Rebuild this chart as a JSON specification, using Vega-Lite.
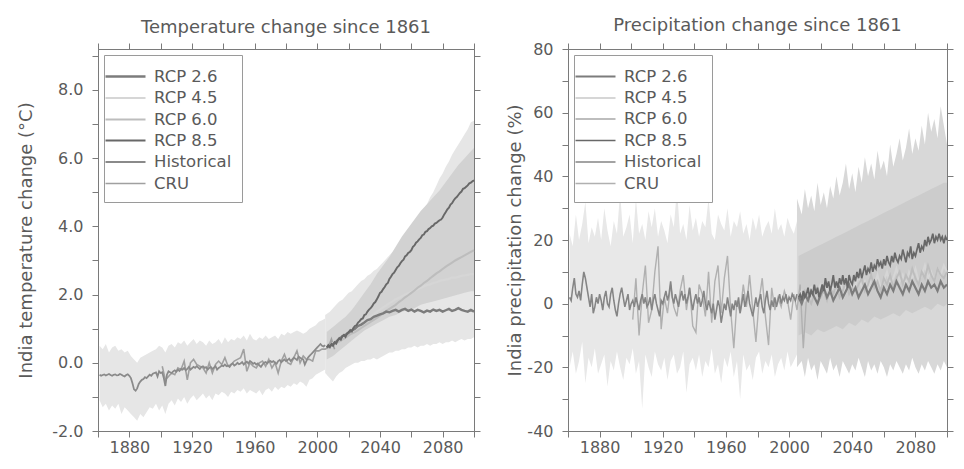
{
"$schema": "https://vega.github.io/schema/vega-lite/v6.json",
"background": "white",
"padding": {"left": 17, "top": 16, "right": 5, "bottom": 5},
"config": {
  "font": "DejaVu Sans",
  "view": {"stroke": "#7a7a7a", "strokeWidth": 1},
  "axis": {"labelFont": "DejaVu Sans", "labelFontSize": 16, "labelColor": "#5a5a5a", "titleFont": "DejaVu Sans", "titleFontSize": 18, "titleColor": "#5a5a5a", "titleFontWeight": "normal", "domainColor": "#7a7a7a", "tickColor": "#7a7a7a", "grid": false, "tickSize": 6, "labelOverlap": false},
  "axisY": {"labelPadding": 9},
  "axisX": {"labelPadding": 2},
  "legend": {"labelFont": "DejaVu Sans", "labelFontSize": 16.5, "labelColor": "#5a5a5a", "symbolType": "M-2,0L2,0", "symbolSize": 400, "symbolStrokeWidth": 2.5, "strokeColor": "#9a9a9a", "fillColor": "white", "padding": 10, "rowPadding": 1.5, "offset": 6, "labelOffset": 17},
  "title": {"font": "DejaVu Sans", "fontSize": 18, "fontWeight": "normal", "color": "#5a5a5a", "offset": 6}
},
"datasets": {
"t_band": [
{"yr":1861,"lo":-1.1,"hi":0.5,"b":"hist"},{"yr":1863,"lo":-1.3,"hi":0.4,"b":"hist"},{"yr":1865,"lo":-1.2,"hi":0.55,"b":"hist"},{"yr":1867,"lo":-1.4,"hi":0.3,"b":"hist"},{"yr":1869,"lo":-1.25,"hi":0.45,"b":"hist"},{"yr":1871,"lo":-1.35,"hi":0.5,"b":"hist"},{"yr":1873,"lo":-1.2,"hi":0.35,"b":"hist"},{"yr":1875,"lo":-1.5,"hi":0.4,"b":"hist"},{"yr":1877,"lo":-1.3,"hi":0.3,"b":"hist"},{"yr":1879,"lo":-1.4,"hi":0.35,"b":"hist"},{"yr":1881,"lo":-1.5,"hi":0.2,"b":"hist"},{"yr":1883,"lo":-1.6,"hi":0.1,"b":"hist"},{"yr":1885,"lo":-1.7,"hi":0.0,"b":"hist"},{"yr":1887,"lo":-1.5,"hi":0.15,"b":"hist"},{"yr":1889,"lo":-1.6,"hi":0.2,"b":"hist"},{"yr":1891,"lo":-1.45,"hi":0.25,"b":"hist"},{"yr":1893,"lo":-1.3,"hi":0.3,"b":"hist"},{"yr":1895,"lo":-1.35,"hi":0.35,"b":"hist"},{"yr":1897,"lo":-1.2,"hi":0.4,"b":"hist"},{"yr":1899,"lo":-1.4,"hi":0.5,"b":"hist"},{"yr":1901,"lo":-1.25,"hi":0.45,"b":"hist"},{"yr":1903,"lo":-1.5,"hi":0.3,"b":"hist"},{"yr":1905,"lo":-1.2,"hi":0.5,"b":"hist"},{"yr":1907,"lo":-1.1,"hi":0.55,"b":"hist"},{"yr":1909,"lo":-1.25,"hi":0.45,"b":"hist"},{"yr":1911,"lo":-1.05,"hi":0.6,"b":"hist"},{"yr":1913,"lo":-1.15,"hi":0.55,"b":"hist"},{"yr":1915,"lo":-1.0,"hi":0.65,"b":"hist"},{"yr":1917,"lo":-1.2,"hi":0.5,"b":"hist"},{"yr":1919,"lo":-1.05,"hi":0.6,"b":"hist"},{"yr":1921,"lo":-0.95,"hi":0.7,"b":"hist"},{"yr":1923,"lo":-1.1,"hi":0.55,"b":"hist"},{"yr":1925,"lo":-1.0,"hi":0.65,"b":"hist"},{"yr":1927,"lo":-0.9,"hi":0.6,"b":"hist"},{"yr":1929,"lo":-1.05,"hi":0.5,"b":"hist"},{"yr":1931,"lo":-0.95,"hi":0.65,"b":"hist"},{"yr":1933,"lo":-1.1,"hi":0.55,"b":"hist"},{"yr":1935,"lo":-0.9,"hi":0.6,"b":"hist"},{"yr":1937,"lo":-0.95,"hi":0.7,"b":"hist"},{"yr":1939,"lo":-0.85,"hi":0.55,"b":"hist"},{"yr":1941,"lo":-0.9,"hi":0.75,"b":"hist"},{"yr":1943,"lo":-1.0,"hi":0.6,"b":"hist"},{"yr":1945,"lo":-0.85,"hi":0.7,"b":"hist"},{"yr":1947,"lo":-0.9,"hi":0.65,"b":"hist"},{"yr":1949,"lo":-0.8,"hi":0.75,"b":"hist"},{"yr":1951,"lo":-0.85,"hi":0.7,"b":"hist"},{"yr":1953,"lo":-0.75,"hi":0.8,"b":"hist"},{"yr":1955,"lo":-0.9,"hi":0.65,"b":"hist"},{"yr":1957,"lo":-0.8,"hi":0.85,"b":"hist"},{"yr":1959,"lo":-0.85,"hi":0.7,"b":"hist"},{"yr":1961,"lo":-0.9,"hi":0.65,"b":"hist"},{"yr":1963,"lo":-0.8,"hi":0.75,"b":"hist"},{"yr":1965,"lo":-0.95,"hi":0.7,"b":"hist"},{"yr":1967,"lo":-0.8,"hi":0.8,"b":"hist"},{"yr":1969,"lo":-0.75,"hi":0.7,"b":"hist"},{"yr":1971,"lo":-0.85,"hi":0.75,"b":"hist"},{"yr":1973,"lo":-0.7,"hi":0.8,"b":"hist"},{"yr":1975,"lo":-0.8,"hi":0.7,"b":"hist"},{"yr":1977,"lo":-0.7,"hi":0.85,"b":"hist"},{"yr":1979,"lo":-0.75,"hi":0.8,"b":"hist"},{"yr":1981,"lo":-0.65,"hi":0.9,"b":"hist"},{"yr":1983,"lo":-0.7,"hi":0.85,"b":"hist"},{"yr":1985,"lo":-0.6,"hi":0.9,"b":"hist"},{"yr":1987,"lo":-0.65,"hi":0.95,"b":"hist"},{"yr":1989,"lo":-0.55,"hi":0.9,"b":"hist"},{"yr":1991,"lo":-0.6,"hi":0.85,"b":"hist"},{"yr":1993,"lo":-0.7,"hi":0.9,"b":"hist"},{"yr":1995,"lo":-0.5,"hi":1.0,"b":"hist"},{"yr":1997,"lo":-0.45,"hi":1.05,"b":"hist"},{"yr":1999,"lo":-0.35,"hi":1.1,"b":"hist"},{"yr":2001,"lo":-0.3,"hi":1.2,"b":"hist"},{"yr":2003,"lo":-0.25,"hi":1.25,"b":"hist"},{"yr":2005,"lo":-0.2,"hi":1.3,"b":"hist"},
{"yr":2005,"lo":-0.3,"hi":1.4,"b":"outer"},{"yr":2008,"lo":-0.45,"hi":1.5,"b":"outer"},{"yr":2010,"lo":-0.55,"hi":1.6,"b":"outer"},{"yr":2012,"lo":-0.4,"hi":1.7,"b":"outer"},{"yr":2014,"lo":-0.3,"hi":1.8,"b":"outer"},{"yr":2016,"lo":-0.25,"hi":1.85,"b":"outer"},{"yr":2018,"lo":-0.15,"hi":1.95,"b":"outer"},{"yr":2020,"lo":-0.1,"hi":2.05,"b":"outer"},{"yr":2022,"lo":-0.05,"hi":2.1,"b":"outer"},{"yr":2024,"lo":0.0,"hi":2.2,"b":"outer"},{"yr":2026,"lo":0.0,"hi":2.3,"b":"outer"},{"yr":2028,"lo":0.05,"hi":2.4,"b":"outer"},{"yr":2030,"lo":0.05,"hi":2.45,"b":"outer"},{"yr":2032,"lo":0.1,"hi":2.55,"b":"outer"},{"yr":2034,"lo":0.1,"hi":2.6,"b":"outer"},{"yr":2036,"lo":0.15,"hi":2.7,"b":"outer"},{"yr":2038,"lo":0.1,"hi":2.75,"b":"outer"},{"yr":2040,"lo":0.15,"hi":2.85,"b":"outer"},{"yr":2042,"lo":0.2,"hi":2.95,"b":"outer"},{"yr":2044,"lo":0.25,"hi":3.05,"b":"outer"},{"yr":2046,"lo":0.3,"hi":3.15,"b":"outer"},{"yr":2048,"lo":0.3,"hi":3.25,"b":"outer"},{"yr":2050,"lo":0.35,"hi":3.35,"b":"outer"},{"yr":2052,"lo":0.35,"hi":3.45,"b":"outer"},{"yr":2054,"lo":0.4,"hi":3.55,"b":"outer"},{"yr":2056,"lo":0.4,"hi":3.7,"b":"outer"},{"yr":2058,"lo":0.45,"hi":3.8,"b":"outer"},{"yr":2060,"lo":0.45,"hi":3.95,"b":"outer"},{"yr":2062,"lo":0.5,"hi":4.05,"b":"outer"},{"yr":2064,"lo":0.45,"hi":4.2,"b":"outer"},{"yr":2066,"lo":0.5,"hi":4.35,"b":"outer"},{"yr":2068,"lo":0.5,"hi":4.5,"b":"outer"},{"yr":2070,"lo":0.55,"hi":4.65,"b":"outer"},{"yr":2072,"lo":0.5,"hi":4.85,"b":"outer"},{"yr":2074,"lo":0.55,"hi":5.0,"b":"outer"},{"yr":2076,"lo":0.55,"hi":5.2,"b":"outer"},{"yr":2078,"lo":0.6,"hi":5.4,"b":"outer"},{"yr":2080,"lo":0.55,"hi":5.55,"b":"outer"},{"yr":2082,"lo":0.6,"hi":5.75,"b":"outer"},{"yr":2084,"lo":0.6,"hi":5.9,"b":"outer"},{"yr":2086,"lo":0.65,"hi":6.1,"b":"outer"},{"yr":2088,"lo":0.6,"hi":6.25,"b":"outer"},{"yr":2090,"lo":0.65,"hi":6.4,"b":"outer"},{"yr":2092,"lo":0.7,"hi":6.55,"b":"outer"},{"yr":2094,"lo":0.65,"hi":6.7,"b":"outer"},{"yr":2096,"lo":0.7,"hi":6.85,"b":"outer"},{"yr":2098,"lo":0.7,"hi":7.05,"b":"outer"},{"yr":2100,"lo":0.75,"hi":7.1,"b":"outer"},
{"yr":2006,"lo":0.1,"hi":0.9,"b":"inner"},{"yr":2010,"lo":0.2,"hi":1.05,"b":"inner"},{"yr":2014,"lo":0.35,"hi":1.2,"b":"inner"},{"yr":2018,"lo":0.5,"hi":1.35,"b":"inner"},{"yr":2022,"lo":0.65,"hi":1.55,"b":"inner"},{"yr":2026,"lo":0.8,"hi":1.8,"b":"inner"},{"yr":2030,"lo":0.95,"hi":2.05,"b":"inner"},{"yr":2034,"lo":1.05,"hi":2.3,"b":"inner"},{"yr":2038,"lo":1.15,"hi":2.6,"b":"inner"},{"yr":2042,"lo":1.25,"hi":2.85,"b":"inner"},{"yr":2046,"lo":1.35,"hi":3.1,"b":"inner"},{"yr":2050,"lo":1.4,"hi":3.4,"b":"inner"},{"yr":2054,"lo":1.5,"hi":3.7,"b":"inner"},{"yr":2058,"lo":1.55,"hi":3.95,"b":"inner"},{"yr":2062,"lo":1.6,"hi":4.2,"b":"inner"},{"yr":2066,"lo":1.7,"hi":4.45,"b":"inner"},{"yr":2070,"lo":1.75,"hi":4.65,"b":"inner"},{"yr":2074,"lo":1.8,"hi":4.85,"b":"inner"},{"yr":2078,"lo":1.85,"hi":5.05,"b":"inner"},{"yr":2082,"lo":1.9,"hi":5.3,"b":"inner"},{"yr":2086,"lo":1.95,"hi":5.55,"b":"inner"},{"yr":2090,"lo":2.0,"hi":5.8,"b":"inner"},{"yr":2094,"lo":2.05,"hi":6.0,"b":"inner"},{"yr":2098,"lo":2.1,"hi":6.2,"b":"inner"},{"yr":2100,"lo":2.1,"hi":6.3,"b":"inner"}
],
"t_line": [
{"yr":1901,"v":-0.1,"s":"CRU"},{"yr":1903,"v":-0.5,"s":"CRU"},{"yr":1905,"v":-0.4,"s":"CRU"},{"yr":1907,"v":-0.3,"s":"CRU"},{"yr":1909,"v":-0.35,"s":"CRU"},{"yr":1911,"v":-0.15,"s":"CRU"},{"yr":1913,"v":-0.2,"s":"CRU"},{"yr":1915,"v":0.05,"s":"CRU"},{"yr":1917,"v":-0.5,"s":"CRU"},{"yr":1919,"v":0.0,"s":"CRU"},{"yr":1921,"v":0.1,"s":"CRU"},{"yr":1923,"v":-0.05,"s":"CRU"},{"yr":1925,"v":-0.1,"s":"CRU"},{"yr":1927,"v":-0.15,"s":"CRU"},{"yr":1929,"v":-0.3,"s":"CRU"},{"yr":1931,"v":0.0,"s":"CRU"},{"yr":1933,"v":-0.3,"s":"CRU"},{"yr":1935,"v":-0.05,"s":"CRU"},{"yr":1937,"v":0.05,"s":"CRU"},{"yr":1939,"v":-0.05,"s":"CRU"},{"yr":1941,"v":0.15,"s":"CRU"},{"yr":1943,"v":-0.1,"s":"CRU"},{"yr":1945,"v":-0.05,"s":"CRU"},{"yr":1947,"v":0.05,"s":"CRU"},{"yr":1949,"v":0.1,"s":"CRU"},{"yr":1951,"v":0.15,"s":"CRU"},{"yr":1953,"v":0.4,"s":"CRU"},{"yr":1955,"v":-0.25,"s":"CRU"},{"yr":1957,"v":0.0,"s":"CRU"},{"yr":1959,"v":-0.1,"s":"CRU"},{"yr":1961,"v":-0.15,"s":"CRU"},{"yr":1963,"v":0.0,"s":"CRU"},{"yr":1965,"v":0.05,"s":"CRU"},{"yr":1967,"v":-0.1,"s":"CRU"},{"yr":1969,"v":0.1,"s":"CRU"},{"yr":1971,"v":-0.15,"s":"CRU"},{"yr":1973,"v":0.0,"s":"CRU"},{"yr":1975,"v":-0.3,"s":"CRU"},{"yr":1977,"v":0.05,"s":"CRU"},{"yr":1979,"v":0.25,"s":"CRU"},{"yr":1981,"v":0.0,"s":"CRU"},{"yr":1983,"v":-0.05,"s":"CRU"},{"yr":1985,"v":0.15,"s":"CRU"},{"yr":1987,"v":0.35,"s":"CRU"},{"yr":1989,"v":0.0,"s":"CRU"},{"yr":1991,"v":0.2,"s":"CRU"},{"yr":1993,"v":0.1,"s":"CRU"},{"yr":1995,"v":0.1,"s":"CRU"},{"yr":1997,"v":0.05,"s":"CRU"},{"yr":1999,"v":0.35,"s":"CRU"},{"yr":2001,"v":0.35,"s":"CRU"},{"yr":2003,"v":0.4,"s":"CRU"},{"yr":2005,"v":0.4,"s":"CRU"},{"yr":2007,"v":0.45,"s":"CRU"},{"yr":2009,"v":0.7,"s":"CRU"},{"yr":2011,"v":0.4,"s":"CRU"},
{"yr":1861,"v":-0.35,"s":"Historical"},{"yr":1862,"v":-0.38,"s":"Historical"},{"yr":1863,"v":-0.36,"s":"Historical"},{"yr":1864,"v":-0.34,"s":"Historical"},{"yr":1865,"v":-0.37,"s":"Historical"},{"yr":1866,"v":-0.35,"s":"Historical"},{"yr":1867,"v":-0.33,"s":"Historical"},{"yr":1868,"v":-0.36,"s":"Historical"},{"yr":1869,"v":-0.38,"s":"Historical"},{"yr":1870,"v":-0.35,"s":"Historical"},{"yr":1871,"v":-0.34,"s":"Historical"},{"yr":1872,"v":-0.37,"s":"Historical"},{"yr":1873,"v":-0.36,"s":"Historical"},{"yr":1874,"v":-0.33,"s":"Historical"},{"yr":1875,"v":-0.35,"s":"Historical"},{"yr":1876,"v":-0.38,"s":"Historical"},{"yr":1877,"v":-0.4,"s":"Historical"},{"yr":1878,"v":-0.36,"s":"Historical"},{"yr":1879,"v":-0.34,"s":"Historical"},{"yr":1880,"v":-0.38,"s":"Historical"},
{"yr":1881,"v":-0.45,"s":"Historical"},{"yr":1882,"v":-0.6,"s":"Historical"},{"yr":1883,"v":-0.78,"s":"Historical"},{"yr":1884,"v":-0.82,"s":"Historical"},{"yr":1885,"v":-0.75,"s":"Historical"},{"yr":1886,"v":-0.62,"s":"Historical"},{"yr":1887,"v":-0.55,"s":"Historical"},{"yr":1888,"v":-0.5,"s":"Historical"},{"yr":1889,"v":-0.48,"s":"Historical"},{"yr":1890,"v":-0.42,"s":"Historical"},
{"yr":1891,"v":-0.45,"s":"Historical"},{"yr":1892,"v":-0.4,"s":"Historical"},{"yr":1893,"v":-0.35,"s":"Historical"},{"yr":1894,"v":-0.38,"s":"Historical"},{"yr":1895,"v":-0.32,"s":"Historical"},{"yr":1896,"v":-0.3,"s":"Historical"},{"yr":1897,"v":-0.28,"s":"Historical"},{"yr":1898,"v":-0.4,"s":"Historical"},{"yr":1899,"v":-0.25,"s":"Historical"},{"yr":1900,"v":-0.3,"s":"Historical"},
{"yr":1901,"v":-0.28,"s":"Historical"},{"yr":1902,"v":-0.45,"s":"Historical"},{"yr":1903,"v":-0.68,"s":"Historical"},{"yr":1904,"v":-0.35,"s":"Historical"},{"yr":1905,"v":-0.25,"s":"Historical"},{"yr":1906,"v":-0.28,"s":"Historical"},{"yr":1907,"v":-0.3,"s":"Historical"},{"yr":1908,"v":-0.25,"s":"Historical"},{"yr":1909,"v":-0.22,"s":"Historical"},{"yr":1910,"v":-0.26,"s":"Historical"},
{"yr":1911,"v":-0.2,"s":"Historical"},{"yr":1912,"v":-0.24,"s":"Historical"},{"yr":1913,"v":-0.18,"s":"Historical"},{"yr":1914,"v":-0.2,"s":"Historical"},{"yr":1915,"v":-0.15,"s":"Historical"},{"yr":1916,"v":-0.22,"s":"Historical"},{"yr":1917,"v":-0.18,"s":"Historical"},{"yr":1918,"v":-0.12,"s":"Historical"},{"yr":1919,"v":-0.2,"s":"Historical"},{"yr":1920,"v":-0.16,"s":"Historical"},
{"yr":1921,"v":-0.12,"s":"Historical"},{"yr":1922,"v":-0.15,"s":"Historical"},{"yr":1923,"v":-0.1,"s":"Historical"},{"yr":1924,"v":-0.14,"s":"Historical"},{"yr":1925,"v":-0.18,"s":"Historical"},{"yr":1926,"v":-0.12,"s":"Historical"},{"yr":1927,"v":-0.1,"s":"Historical"},{"yr":1928,"v":-0.15,"s":"Historical"},{"yr":1929,"v":-0.13,"s":"Historical"},{"yr":1930,"v":-0.2,"s":"Historical"},
{"yr":1931,"v":-0.15,"s":"Historical"},{"yr":1932,"v":-0.12,"s":"Historical"},{"yr":1933,"v":-0.18,"s":"Historical"},{"yr":1934,"v":-0.14,"s":"Historical"},{"yr":1935,"v":-0.1,"s":"Historical"},{"yr":1936,"v":-0.2,"s":"Historical"},{"yr":1937,"v":-0.15,"s":"Historical"},{"yr":1938,"v":-0.12,"s":"Historical"},{"yr":1939,"v":-0.08,"s":"Historical"},{"yr":1940,"v":-0.1,"s":"Historical"},
{"yr":1941,"v":-0.05,"s":"Historical"},{"yr":1942,"v":-0.1,"s":"Historical"},{"yr":1943,"v":-0.08,"s":"Historical"},{"yr":1944,"v":-0.12,"s":"Historical"},{"yr":1945,"v":-0.05,"s":"Historical"},{"yr":1946,"v":-0.02,"s":"Historical"},{"yr":1947,"v":-0.08,"s":"Historical"},{"yr":1948,"v":-0.05,"s":"Historical"},{"yr":1949,"v":0.0,"s":"Historical"},{"yr":1950,"v":-0.04,"s":"Historical"},
{"yr":1951,"v":-0.02,"s":"Historical"},{"yr":1952,"v":0.02,"s":"Historical"},{"yr":1953,"v":-0.05,"s":"Historical"},{"yr":1954,"v":0.0,"s":"Historical"},{"yr":1955,"v":0.03,"s":"Historical"},{"yr":1956,"v":-0.02,"s":"Historical"},{"yr":1957,"v":0.05,"s":"Historical"},{"yr":1958,"v":0.02,"s":"Historical"},{"yr":1959,"v":-0.03,"s":"Historical"},{"yr":1960,"v":0.0,"s":"Historical"},
{"yr":1961,"v":-0.05,"s":"Historical"},{"yr":1962,"v":-0.02,"s":"Historical"},{"yr":1963,"v":-0.08,"s":"Historical"},{"yr":1964,"v":-0.12,"s":"Historical"},{"yr":1965,"v":-0.05,"s":"Historical"},{"yr":1966,"v":0.0,"s":"Historical"},{"yr":1967,"v":0.02,"s":"Historical"},{"yr":1968,"v":-0.02,"s":"Historical"},{"yr":1969,"v":0.03,"s":"Historical"},{"yr":1970,"v":0.05,"s":"Historical"},
{"yr":1971,"v":0.02,"s":"Historical"},{"yr":1972,"v":0.05,"s":"Historical"},{"yr":1973,"v":0.0,"s":"Historical"},{"yr":1974,"v":-0.03,"s":"Historical"},{"yr":1975,"v":0.05,"s":"Historical"},{"yr":1976,"v":0.08,"s":"Historical"},{"yr":1977,"v":0.02,"s":"Historical"},{"yr":1978,"v":0.06,"s":"Historical"},{"yr":1979,"v":0.1,"s":"Historical"},{"yr":1980,"v":0.05,"s":"Historical"},
{"yr":1981,"v":0.08,"s":"Historical"},{"yr":1982,"v":0.12,"s":"Historical"},{"yr":1983,"v":0.05,"s":"Historical"},{"yr":1984,"v":0.1,"s":"Historical"},{"yr":1985,"v":0.15,"s":"Historical"},{"yr":1986,"v":0.12,"s":"Historical"},{"yr":1987,"v":0.08,"s":"Historical"},{"yr":1988,"v":0.18,"s":"Historical"},{"yr":1989,"v":0.15,"s":"Historical"},{"yr":1990,"v":0.12,"s":"Historical"},
{"yr":1991,"v":0.1,"s":"Historical"},{"yr":1992,"v":-0.05,"s":"Historical"},{"yr":1993,"v":0.05,"s":"Historical"},{"yr":1994,"v":0.15,"s":"Historical"},{"yr":1995,"v":0.2,"s":"Historical"},{"yr":1996,"v":0.25,"s":"Historical"},{"yr":1997,"v":0.3,"s":"Historical"},{"yr":1998,"v":0.35,"s":"Historical"},{"yr":1999,"v":0.4,"s":"Historical"},{"yr":2000,"v":0.45,"s":"Historical"},
{"yr":2001,"v":0.5,"s":"Historical"},{"yr":2002,"v":0.55,"s":"Historical"},{"yr":2003,"v":0.5,"s":"Historical"},{"yr":2004,"v":0.48,"s":"Historical"},{"yr":2005,"v":0.52,"s":"Historical"},
{"yr":2006,"v":0.45,"s":"RCP 4.5"},{"yr":2008,"v":0.5,"s":"RCP 4.5"},{"yr":2010,"v":0.58,"s":"RCP 4.5"},{"yr":2012,"v":0.62,"s":"RCP 4.5"},{"yr":2014,"v":0.7,"s":"RCP 4.5"},{"yr":2016,"v":0.75,"s":"RCP 4.5"},{"yr":2018,"v":0.82,"s":"RCP 4.5"},{"yr":2020,"v":0.9,"s":"RCP 4.5"},{"yr":2022,"v":0.95,"s":"RCP 4.5"},{"yr":2024,"v":1.02,"s":"RCP 4.5"},{"yr":2026,"v":1.1,"s":"RCP 4.5"},{"yr":2028,"v":1.15,"s":"RCP 4.5"},{"yr":2030,"v":1.22,"s":"RCP 4.5"},{"yr":2032,"v":1.3,"s":"RCP 4.5"},{"yr":2034,"v":1.36,"s":"RCP 4.5"},{"yr":2036,"v":1.42,"s":"RCP 4.5"},{"yr":2038,"v":1.5,"s":"RCP 4.5"},{"yr":2040,"v":1.56,"s":"RCP 4.5"},{"yr":2042,"v":1.62,"s":"RCP 4.5"},{"yr":2044,"v":1.68,"s":"RCP 4.5"},{"yr":2046,"v":1.75,"s":"RCP 4.5"},{"yr":2048,"v":1.8,"s":"RCP 4.5"},{"yr":2050,"v":1.86,"s":"RCP 4.5"},{"yr":2052,"v":1.9,"s":"RCP 4.5"},{"yr":2054,"v":1.95,"s":"RCP 4.5"},{"yr":2056,"v":2.0,"s":"RCP 4.5"},{"yr":2058,"v":2.04,"s":"RCP 4.5"},{"yr":2060,"v":2.08,"s":"RCP 4.5"},{"yr":2062,"v":2.12,"s":"RCP 4.5"},{"yr":2064,"v":2.16,"s":"RCP 4.5"},{"yr":2066,"v":2.2,"s":"RCP 4.5"},{"yr":2068,"v":2.24,"s":"RCP 4.5"},{"yr":2070,"v":2.28,"s":"RCP 4.5"},{"yr":2072,"v":2.3,"s":"RCP 4.5"},{"yr":2074,"v":2.34,"s":"RCP 4.5"},{"yr":2076,"v":2.36,"s":"RCP 4.5"},{"yr":2078,"v":2.4,"s":"RCP 4.5"},{"yr":2080,"v":2.42,"s":"RCP 4.5"},{"yr":2082,"v":2.44,"s":"RCP 4.5"},{"yr":2084,"v":2.46,"s":"RCP 4.5"},{"yr":2086,"v":2.5,"s":"RCP 4.5"},{"yr":2088,"v":2.5,"s":"RCP 4.5"},{"yr":2090,"v":2.52,"s":"RCP 4.5"},{"yr":2092,"v":2.55,"s":"RCP 4.5"},{"yr":2094,"v":2.56,"s":"RCP 4.5"},{"yr":2096,"v":2.58,"s":"RCP 4.5"},{"yr":2098,"v":2.6,"s":"RCP 4.5"},{"yr":2100,"v":2.6,"s":"RCP 4.5"},
{"yr":2006,"v":0.45,"s":"RCP 6.0"},{"yr":2008,"v":0.48,"s":"RCP 6.0"},{"yr":2010,"v":0.52,"s":"RCP 6.0"},{"yr":2012,"v":0.58,"s":"RCP 6.0"},{"yr":2014,"v":0.62,"s":"RCP 6.0"},{"yr":2016,"v":0.68,"s":"RCP 6.0"},{"yr":2018,"v":0.74,"s":"RCP 6.0"},{"yr":2020,"v":0.8,"s":"RCP 6.0"},{"yr":2022,"v":0.86,"s":"RCP 6.0"},{"yr":2024,"v":0.9,"s":"RCP 6.0"},{"yr":2026,"v":0.96,"s":"RCP 6.0"},{"yr":2028,"v":1.02,"s":"RCP 6.0"},{"yr":2030,"v":1.08,"s":"RCP 6.0"},{"yr":2032,"v":1.14,"s":"RCP 6.0"},{"yr":2034,"v":1.2,"s":"RCP 6.0"},{"yr":2036,"v":1.26,"s":"RCP 6.0"},{"yr":2038,"v":1.32,"s":"RCP 6.0"},{"yr":2040,"v":1.38,"s":"RCP 6.0"},{"yr":2042,"v":1.45,"s":"RCP 6.0"},{"yr":2044,"v":1.52,"s":"RCP 6.0"},{"yr":2046,"v":1.58,"s":"RCP 6.0"},{"yr":2048,"v":1.64,"s":"RCP 6.0"},{"yr":2050,"v":1.7,"s":"RCP 6.0"},{"yr":2052,"v":1.78,"s":"RCP 6.0"},{"yr":2054,"v":1.84,"s":"RCP 6.0"},{"yr":2056,"v":1.92,"s":"RCP 6.0"},{"yr":2058,"v":1.98,"s":"RCP 6.0"},{"yr":2060,"v":2.05,"s":"RCP 6.0"},{"yr":2062,"v":2.12,"s":"RCP 6.0"},{"yr":2064,"v":2.2,"s":"RCP 6.0"},{"yr":2066,"v":2.26,"s":"RCP 6.0"},{"yr":2068,"v":2.34,"s":"RCP 6.0"},{"yr":2070,"v":2.4,"s":"RCP 6.0"},{"yr":2072,"v":2.48,"s":"RCP 6.0"},{"yr":2074,"v":2.55,"s":"RCP 6.0"},{"yr":2076,"v":2.62,"s":"RCP 6.0"},{"yr":2078,"v":2.68,"s":"RCP 6.0"},{"yr":2080,"v":2.75,"s":"RCP 6.0"},{"yr":2082,"v":2.82,"s":"RCP 6.0"},{"yr":2084,"v":2.88,"s":"RCP 6.0"},{"yr":2086,"v":2.94,"s":"RCP 6.0"},{"yr":2088,"v":3.0,"s":"RCP 6.0"},{"yr":2090,"v":3.05,"s":"RCP 6.0"},{"yr":2092,"v":3.1,"s":"RCP 6.0"},{"yr":2094,"v":3.15,"s":"RCP 6.0"},{"yr":2096,"v":3.2,"s":"RCP 6.0"},{"yr":2098,"v":3.25,"s":"RCP 6.0"},{"yr":2100,"v":3.3,"s":"RCP 6.0"},
{"yr":2006,"v":0.45,"s":"RCP 2.6"},{"yr":2008,"v":0.5,"s":"RCP 2.6"},{"yr":2010,"v":0.55,"s":"RCP 2.6"},{"yr":2012,"v":0.62,"s":"RCP 2.6"},{"yr":2014,"v":0.7,"s":"RCP 2.6"},{"yr":2016,"v":0.78,"s":"RCP 2.6"},{"yr":2018,"v":0.82,"s":"RCP 2.6"},{"yr":2020,"v":0.88,"s":"RCP 2.6"},{"yr":2022,"v":0.95,"s":"RCP 2.6"},{"yr":2024,"v":1.0,"s":"RCP 2.6"},{"yr":2026,"v":1.08,"s":"RCP 2.6"},{"yr":2028,"v":1.12,"s":"RCP 2.6"},{"yr":2030,"v":1.18,"s":"RCP 2.6"},{"yr":2032,"v":1.25,"s":"RCP 2.6"},{"yr":2034,"v":1.28,"s":"RCP 2.6"},{"yr":2036,"v":1.35,"s":"RCP 2.6"},{"yr":2038,"v":1.38,"s":"RCP 2.6"},{"yr":2040,"v":1.42,"s":"RCP 2.6"},{"yr":2042,"v":1.45,"s":"RCP 2.6"},{"yr":2044,"v":1.5,"s":"RCP 2.6"},{"yr":2046,"v":1.48,"s":"RCP 2.6"},{"yr":2048,"v":1.52,"s":"RCP 2.6"},{"yr":2050,"v":1.55,"s":"RCP 2.6"},{"yr":2052,"v":1.5,"s":"RCP 2.6"},{"yr":2054,"v":1.55,"s":"RCP 2.6"},{"yr":2056,"v":1.58,"s":"RCP 2.6"},{"yr":2058,"v":1.52,"s":"RCP 2.6"},{"yr":2060,"v":1.56,"s":"RCP 2.6"},{"yr":2062,"v":1.5,"s":"RCP 2.6"},{"yr":2064,"v":1.55,"s":"RCP 2.6"},{"yr":2066,"v":1.52,"s":"RCP 2.6"},{"yr":2068,"v":1.48,"s":"RCP 2.6"},{"yr":2070,"v":1.53,"s":"RCP 2.6"},{"yr":2072,"v":1.5,"s":"RCP 2.6"},{"yr":2074,"v":1.56,"s":"RCP 2.6"},{"yr":2076,"v":1.52,"s":"RCP 2.6"},{"yr":2078,"v":1.55,"s":"RCP 2.6"},{"yr":2080,"v":1.5,"s":"RCP 2.6"},{"yr":2082,"v":1.54,"s":"RCP 2.6"},{"yr":2084,"v":1.58,"s":"RCP 2.6"},{"yr":2086,"v":1.52,"s":"RCP 2.6"},{"yr":2088,"v":1.55,"s":"RCP 2.6"},{"yr":2090,"v":1.6,"s":"RCP 2.6"},{"yr":2092,"v":1.55,"s":"RCP 2.6"},{"yr":2094,"v":1.52,"s":"RCP 2.6"},{"yr":2096,"v":1.5,"s":"RCP 2.6"},{"yr":2098,"v":1.55,"s":"RCP 2.6"},{"yr":2100,"v":1.5,"s":"RCP 2.6"},
{"yr":2006,"v":0.45,"s":"RCP 8.5"},{"yr":2007,"v":0.52,"s":"RCP 8.5"},{"yr":2008,"v":0.46,"s":"RCP 8.5"},{"yr":2009,"v":0.55,"s":"RCP 8.5"},{"yr":2010,"v":0.5,"s":"RCP 8.5"},{"yr":2011,"v":0.6,"s":"RCP 8.5"},{"yr":2012,"v":0.56,"s":"RCP 8.5"},{"yr":2013,"v":0.66,"s":"RCP 8.5"},{"yr":2014,"v":0.72,"s":"RCP 8.5"},{"yr":2015,"v":0.68,"s":"RCP 8.5"},{"yr":2016,"v":0.78,"s":"RCP 8.5"},{"yr":2017,"v":0.82,"s":"RCP 8.5"},{"yr":2018,"v":0.76,"s":"RCP 8.5"},{"yr":2019,"v":0.86,"s":"RCP 8.5"},{"yr":2020,"v":0.9,"s":"RCP 8.5"},{"yr":2021,"v":0.96,"s":"RCP 8.5"},{"yr":2022,"v":0.92,"s":"RCP 8.5"},{"yr":2023,"v":1.02,"s":"RCP 8.5"},{"yr":2024,"v":1.08,"s":"RCP 8.5"},{"yr":2025,"v":1.1,"s":"RCP 8.5"},{"yr":2026,"v":1.18,"s":"RCP 8.5"},{"yr":2027,"v":1.22,"s":"RCP 8.5"},{"yr":2028,"v":1.28,"s":"RCP 8.5"},{"yr":2029,"v":1.3,"s":"RCP 8.5"},{"yr":2030,"v":1.4,"s":"RCP 8.5"},{"yr":2031,"v":1.42,"s":"RCP 8.5"},{"yr":2032,"v":1.5,"s":"RCP 8.5"},{"yr":2033,"v":1.56,"s":"RCP 8.5"},{"yr":2034,"v":1.6,"s":"RCP 8.5"},{"yr":2035,"v":1.66,"s":"RCP 8.5"},{"yr":2036,"v":1.74,"s":"RCP 8.5"},{"yr":2037,"v":1.78,"s":"RCP 8.5"},{"yr":2038,"v":1.86,"s":"RCP 8.5"},{"yr":2039,"v":1.95,"s":"RCP 8.5"},{"yr":2040,"v":2.05,"s":"RCP 8.5"},{"yr":2041,"v":2.08,"s":"RCP 8.5"},{"yr":2042,"v":2.16,"s":"RCP 8.5"},{"yr":2043,"v":2.22,"s":"RCP 8.5"},{"yr":2044,"v":2.3,"s":"RCP 8.5"},{"yr":2045,"v":2.34,"s":"RCP 8.5"},{"yr":2046,"v":2.46,"s":"RCP 8.5"},{"yr":2047,"v":2.52,"s":"RCP 8.5"},{"yr":2048,"v":2.6,"s":"RCP 8.5"},{"yr":2049,"v":2.64,"s":"RCP 8.5"},{"yr":2050,"v":2.72,"s":"RCP 8.5"},{"yr":2051,"v":2.8,"s":"RCP 8.5"},{"yr":2052,"v":2.84,"s":"RCP 8.5"},{"yr":2053,"v":2.92,"s":"RCP 8.5"},{"yr":2054,"v":2.98,"s":"RCP 8.5"},{"yr":2055,"v":3.02,"s":"RCP 8.5"},{"yr":2056,"v":3.12,"s":"RCP 8.5"},{"yr":2057,"v":3.15,"s":"RCP 8.5"},{"yr":2058,"v":3.22,"s":"RCP 8.5"},{"yr":2059,"v":3.25,"s":"RCP 8.5"},{"yr":2060,"v":3.3,"s":"RCP 8.5"},{"yr":2061,"v":3.4,"s":"RCP 8.5"},{"yr":2062,"v":3.44,"s":"RCP 8.5"},{"yr":2063,"v":3.52,"s":"RCP 8.5"},{"yr":2064,"v":3.56,"s":"RCP 8.5"},{"yr":2065,"v":3.62,"s":"RCP 8.5"},{"yr":2066,"v":3.66,"s":"RCP 8.5"},{"yr":2067,"v":3.74,"s":"RCP 8.5"},{"yr":2068,"v":3.76,"s":"RCP 8.5"},{"yr":2069,"v":3.84,"s":"RCP 8.5"},{"yr":2070,"v":3.86,"s":"RCP 8.5"},{"yr":2071,"v":3.92,"s":"RCP 8.5"},{"yr":2072,"v":3.95,"s":"RCP 8.5"},{"yr":2073,"v":4.0,"s":"RCP 8.5"},{"yr":2074,"v":4.02,"s":"RCP 8.5"},{"yr":2075,"v":4.08,"s":"RCP 8.5"},{"yr":2076,"v":4.1,"s":"RCP 8.5"},{"yr":2077,"v":4.14,"s":"RCP 8.5"},{"yr":2078,"v":4.18,"s":"RCP 8.5"},{"yr":2079,"v":4.2,"s":"RCP 8.5"},{"yr":2080,"v":4.26,"s":"RCP 8.5"},{"yr":2081,"v":4.35,"s":"RCP 8.5"},{"yr":2082,"v":4.42,"s":"RCP 8.5"},{"yr":2083,"v":4.5,"s":"RCP 8.5"},{"yr":2084,"v":4.55,"s":"RCP 8.5"},{"yr":2085,"v":4.64,"s":"RCP 8.5"},{"yr":2086,"v":4.68,"s":"RCP 8.5"},{"yr":2087,"v":4.76,"s":"RCP 8.5"},{"yr":2088,"v":4.82,"s":"RCP 8.5"},{"yr":2089,"v":4.86,"s":"RCP 8.5"},{"yr":2090,"v":4.92,"s":"RCP 8.5"},{"yr":2091,"v":4.98,"s":"RCP 8.5"},{"yr":2092,"v":5.02,"s":"RCP 8.5"},{"yr":2093,"v":5.1,"s":"RCP 8.5"},{"yr":2094,"v":5.12,"s":"RCP 8.5"},{"yr":2095,"v":5.16,"s":"RCP 8.5"},{"yr":2096,"v":5.2,"s":"RCP 8.5"},{"yr":2097,"v":5.26,"s":"RCP 8.5"},{"yr":2098,"v":5.28,"s":"RCP 8.5"},{"yr":2099,"v":5.32,"s":"RCP 8.5"},{"yr":2100,"v":5.35,"s":"RCP 8.5"}
],
"p_band": [
{"yr":1861,"lo":-20,"hi":22,"b":"hist"},{"yr":1863,"lo":-15,"hi":18,"b":"hist"},{"yr":1865,"lo":-22,"hi":28,"b":"hist"},{"yr":1867,"lo":-18,"hi":20,"b":"hist"},{"yr":1869,"lo":-12,"hi":25,"b":"hist"},{"yr":1871,"lo":-25,"hi":32,"b":"hist"},{"yr":1873,"lo":-17,"hi":19,"b":"hist"},{"yr":1875,"lo":-20,"hi":24,"b":"hist"},{"yr":1877,"lo":-14,"hi":21,"b":"hist"},{"yr":1879,"lo":-22,"hi":27,"b":"hist"},{"yr":1881,"lo":-19,"hi":20,"b":"hist"},{"yr":1883,"lo":-16,"hi":30,"b":"hist"},{"yr":1885,"lo":-26,"hi":23,"b":"hist"},{"yr":1887,"lo":-18,"hi":18,"b":"hist"},{"yr":1889,"lo":-21,"hi":26,"b":"hist"},{"yr":1891,"lo":-15,"hi":22,"b":"hist"},{"yr":1893,"lo":-20,"hi":35,"b":"hist"},{"yr":1895,"lo":-24,"hi":21,"b":"hist"},{"yr":1897,"lo":-17,"hi":24,"b":"hist"},{"yr":1899,"lo":-19,"hi":28,"b":"hist"},{"yr":1901,"lo":-14,"hi":19,"b":"hist"},{"yr":1903,"lo":-22,"hi":33,"b":"hist"},{"yr":1905,"lo":-18,"hi":22,"b":"hist"},{"yr":1907,"lo":-33,"hi":25,"b":"hist"},{"yr":1909,"lo":-16,"hi":20,"b":"hist"},{"yr":1911,"lo":-20,"hi":29,"b":"hist"},{"yr":1913,"lo":-23,"hi":24,"b":"hist"},{"yr":1915,"lo":-15,"hi":30,"b":"hist"},{"yr":1917,"lo":-19,"hi":21,"b":"hist"},{"yr":1919,"lo":-21,"hi":26,"b":"hist"},{"yr":1921,"lo":-17,"hi":23,"b":"hist"},{"yr":1923,"lo":-24,"hi":19,"b":"hist"},{"yr":1925,"lo":-18,"hi":28,"b":"hist"},{"yr":1927,"lo":-16,"hi":24,"b":"hist"},{"yr":1929,"lo":-22,"hi":36,"b":"hist"},{"yr":1931,"lo":-20,"hi":22,"b":"hist"},{"yr":1933,"lo":-15,"hi":25,"b":"hist"},{"yr":1935,"lo":-28,"hi":20,"b":"hist"},{"yr":1937,"lo":-19,"hi":31,"b":"hist"},{"yr":1939,"lo":-17,"hi":23,"b":"hist"},{"yr":1941,"lo":-21,"hi":27,"b":"hist"},{"yr":1943,"lo":-16,"hi":21,"b":"hist"},{"yr":1945,"lo":-23,"hi":26,"b":"hist"},{"yr":1947,"lo":-18,"hi":24,"b":"hist"},{"yr":1949,"lo":-20,"hi":33,"b":"hist"},{"yr":1951,"lo":-14,"hi":22,"b":"hist"},{"yr":1953,"lo":-22,"hi":20,"b":"hist"},{"yr":1955,"lo":-19,"hi":28,"b":"hist"},{"yr":1957,"lo":-25,"hi":25,"b":"hist"},{"yr":1959,"lo":-17,"hi":23,"b":"hist"},{"yr":1961,"lo":-20,"hi":30,"b":"hist"},{"yr":1963,"lo":-15,"hi":21,"b":"hist"},{"yr":1965,"lo":-23,"hi":26,"b":"hist"},{"yr":1967,"lo":-18,"hi":24,"b":"hist"},{"yr":1969,"lo":-30,"hi":29,"b":"hist"},{"yr":1971,"lo":-16,"hi":22,"b":"hist"},{"yr":1973,"lo":-21,"hi":25,"b":"hist"},{"yr":1975,"lo":-19,"hi":20,"b":"hist"},{"yr":1977,"lo":-24,"hi":27,"b":"hist"},{"yr":1979,"lo":-17,"hi":23,"b":"hist"},{"yr":1981,"lo":-15,"hi":28,"b":"hist"},{"yr":1983,"lo":-22,"hi":21,"b":"hist"},{"yr":1985,"lo":-18,"hi":24,"b":"hist"},{"yr":1987,"lo":-20,"hi":26,"b":"hist"},{"yr":1989,"lo":-16,"hi":22,"b":"hist"},{"yr":1991,"lo":-23,"hi":30,"b":"hist"},{"yr":1993,"lo":-19,"hi":23,"b":"hist"},{"yr":1995,"lo":-17,"hi":25,"b":"hist"},{"yr":1997,"lo":-21,"hi":21,"b":"hist"},{"yr":1999,"lo":-15,"hi":27,"b":"hist"},{"yr":2001,"lo":-20,"hi":24,"b":"hist"},{"yr":2003,"lo":-18,"hi":22,"b":"hist"},{"yr":2005,"lo":-16,"hi":26,"b":"hist"},
{"yr":2005,"lo":-20,"hi":33,"b":"outer"},{"yr":2008,"lo":-18,"hi":28,"b":"outer"},{"yr":2010,"lo":-23,"hi":36,"b":"outer"},{"yr":2012,"lo":-17,"hi":30,"b":"outer"},{"yr":2014,"lo":-21,"hi":34,"b":"outer"},{"yr":2016,"lo":-19,"hi":29,"b":"outer"},{"yr":2018,"lo":-24,"hi":38,"b":"outer"},{"yr":2020,"lo":-18,"hi":31,"b":"outer"},{"yr":2022,"lo":-20,"hi":35,"b":"outer"},{"yr":2024,"lo":-22,"hi":30,"b":"outer"},{"yr":2026,"lo":-17,"hi":37,"b":"outer"},{"yr":2028,"lo":-21,"hi":33,"b":"outer"},{"yr":2030,"lo":-19,"hi":40,"b":"outer"},{"yr":2032,"lo":-23,"hi":34,"b":"outer"},{"yr":2034,"lo":-18,"hi":38,"b":"outer"},{"yr":2036,"lo":-20,"hi":44,"b":"outer"},{"yr":2038,"lo":-22,"hi":36,"b":"outer"},{"yr":2040,"lo":-19,"hi":41,"b":"outer"},{"yr":2042,"lo":-21,"hi":35,"b":"outer"},{"yr":2044,"lo":-17,"hi":43,"b":"outer"},{"yr":2046,"lo":-20,"hi":38,"b":"outer"},{"yr":2048,"lo":-23,"hi":46,"b":"outer"},{"yr":2050,"lo":-18,"hi":40,"b":"outer"},{"yr":2052,"lo":-21,"hi":44,"b":"outer"},{"yr":2054,"lo":-19,"hi":39,"b":"outer"},{"yr":2056,"lo":-22,"hi":48,"b":"outer"},{"yr":2058,"lo":-18,"hi":42,"b":"outer"},{"yr":2060,"lo":-20,"hi":45,"b":"outer"},{"yr":2062,"lo":-23,"hi":40,"b":"outer"},{"yr":2064,"lo":-19,"hi":50,"b":"outer"},{"yr":2066,"lo":-21,"hi":43,"b":"outer"},{"yr":2068,"lo":-18,"hi":47,"b":"outer"},{"yr":2070,"lo":-20,"hi":52,"b":"outer"},{"yr":2072,"lo":-22,"hi":45,"b":"outer"},{"yr":2074,"lo":-19,"hi":49,"b":"outer"},{"yr":2076,"lo":-21,"hi":55,"b":"outer"},{"yr":2078,"lo":-17,"hi":47,"b":"outer"},{"yr":2080,"lo":-20,"hi":52,"b":"outer"},{"yr":2082,"lo":-22,"hi":48,"b":"outer"},{"yr":2084,"lo":-19,"hi":56,"b":"outer"},{"yr":2086,"lo":-21,"hi":50,"b":"outer"},{"yr":2088,"lo":-18,"hi":60,"b":"outer"},{"yr":2090,"lo":-20,"hi":54,"b":"outer"},{"yr":2092,"lo":-22,"hi":58,"b":"outer"},{"yr":2094,"lo":-19,"hi":52,"b":"outer"},{"yr":2096,"lo":-21,"hi":62,"b":"outer"},{"yr":2098,"lo":-18,"hi":56,"b":"outer"},{"yr":2100,"lo":-20,"hi":50,"b":"outer"},
{"yr":2006,"lo":-10,"hi":15,"b":"inner"},{"yr":2010,"lo":-9,"hi":16,"b":"inner"},{"yr":2014,"lo":-10,"hi":17,"b":"inner"},{"yr":2018,"lo":-8,"hi":18,"b":"inner"},{"yr":2022,"lo":-9,"hi":19,"b":"inner"},{"yr":2026,"lo":-8,"hi":20,"b":"inner"},{"yr":2030,"lo":-7,"hi":21,"b":"inner"},{"yr":2034,"lo":-8,"hi":22,"b":"inner"},{"yr":2038,"lo":-6,"hi":23,"b":"inner"},{"yr":2042,"lo":-7,"hi":24,"b":"inner"},{"yr":2046,"lo":-5,"hi":25,"b":"inner"},{"yr":2050,"lo":-6,"hi":26,"b":"inner"},{"yr":2054,"lo":-4,"hi":27,"b":"inner"},{"yr":2058,"lo":-5,"hi":28,"b":"inner"},{"yr":2062,"lo":-4,"hi":29,"b":"inner"},{"yr":2066,"lo":-3,"hi":30,"b":"inner"},{"yr":2070,"lo":-4,"hi":31,"b":"inner"},{"yr":2074,"lo":-2,"hi":32,"b":"inner"},{"yr":2078,"lo":-3,"hi":33,"b":"inner"},{"yr":2082,"lo":-2,"hi":34,"b":"inner"},{"yr":2086,"lo":-1,"hi":35,"b":"inner"},{"yr":2090,"lo":-2,"hi":36,"b":"inner"},{"yr":2094,"lo":0,"hi":37,"b":"inner"},{"yr":2098,"lo":-1,"hi":38,"b":"inner"},{"yr":2100,"lo":0,"hi":38,"b":"inner"}
],
"p_line": [
{"yr":1901,"v":-5,"s":"CRU"},{"yr":1903,"v":8,"s":"CRU"},{"yr":1905,"v":-10,"s":"CRU"},{"yr":1907,"v":3,"s":"CRU"},{"yr":1909,"v":12,"s":"CRU"},{"yr":1911,"v":-6,"s":"CRU"},{"yr":1913,"v":-2,"s":"CRU"},{"yr":1915,"v":10,"s":"CRU"},{"yr":1917,"v":18,"s":"CRU"},{"yr":1919,"v":-8,"s":"CRU"},{"yr":1921,"v":2,"s":"CRU"},{"yr":1923,"v":-3,"s":"CRU"},{"yr":1925,"v":6,"s":"CRU"},{"yr":1927,"v":-1,"s":"CRU"},{"yr":1929,"v":-4,"s":"CRU"},{"yr":1931,"v":4,"s":"CRU"},{"yr":1933,"v":9,"s":"CRU"},{"yr":1935,"v":-2,"s":"CRU"},{"yr":1937,"v":5,"s":"CRU"},{"yr":1939,"v":-7,"s":"CRU"},{"yr":1941,"v":-9,"s":"CRU"},{"yr":1943,"v":6,"s":"CRU"},{"yr":1945,"v":3,"s":"CRU"},{"yr":1947,"v":-4,"s":"CRU"},{"yr":1949,"v":10,"s":"CRU"},{"yr":1951,"v":-6,"s":"CRU"},{"yr":1953,"v":7,"s":"CRU"},{"yr":1955,"v":12,"s":"CRU"},{"yr":1957,"v":-3,"s":"CRU"},{"yr":1959,"v":8,"s":"CRU"},{"yr":1961,"v":15,"s":"CRU"},{"yr":1963,"v":-2,"s":"CRU"},{"yr":1965,"v":-14,"s":"CRU"},{"yr":1967,"v":1,"s":"CRU"},{"yr":1969,"v":-3,"s":"CRU"},{"yr":1971,"v":6,"s":"CRU"},{"yr":1973,"v":-1,"s":"CRU"},{"yr":1975,"v":9,"s":"CRU"},{"yr":1977,"v":-2,"s":"CRU"},{"yr":1979,"v":-12,"s":"CRU"},{"yr":1981,"v":1,"s":"CRU"},{"yr":1983,"v":8,"s":"CRU"},{"yr":1985,"v":-4,"s":"CRU"},{"yr":1987,"v":-13,"s":"CRU"},{"yr":1989,"v":5,"s":"CRU"},{"yr":1991,"v":-2,"s":"CRU"},{"yr":1993,"v":2,"s":"CRU"},{"yr":1995,"v":-1,"s":"CRU"},{"yr":1997,"v":4,"s":"CRU"},{"yr":1999,"v":1,"s":"CRU"},{"yr":2001,"v":-5,"s":"CRU"},{"yr":2003,"v":3,"s":"CRU"},{"yr":2005,"v":-2,"s":"CRU"},{"yr":2007,"v":6,"s":"CRU"},{"yr":2009,"v":-14,"s":"CRU"},{"yr":2011,"v":2,"s":"CRU"},
{"yr":1861,"v":2,"s":"Historical"},{"yr":1862,"v":1,"s":"Historical"},{"yr":1863,"v":5,"s":"Historical"},{"yr":1864,"v":8,"s":"Historical"},{"yr":1865,"v":3,"s":"Historical"},{"yr":1866,"v":2,"s":"Historical"},{"yr":1867,"v":4,"s":"Historical"},{"yr":1868,"v":1,"s":"Historical"},{"yr":1869,"v":6,"s":"Historical"},{"yr":1870,"v":10,"s":"Historical"},
{"yr":1871,"v":8,"s":"Historical"},{"yr":1872,"v":5,"s":"Historical"},{"yr":1873,"v":2,"s":"Historical"},{"yr":1874,"v":-1,"s":"Historical"},{"yr":1875,"v":3,"s":"Historical"},{"yr":1876,"v":-3,"s":"Historical"},{"yr":1877,"v":-1,"s":"Historical"},{"yr":1878,"v":2,"s":"Historical"},{"yr":1879,"v":0,"s":"Historical"},{"yr":1880,"v":3,"s":"Historical"},
{"yr":1881,"v":1,"s":"Historical"},{"yr":1882,"v":-2,"s":"Historical"},{"yr":1883,"v":2,"s":"Historical"},{"yr":1884,"v":4,"s":"Historical"},{"yr":1885,"v":0,"s":"Historical"},{"yr":1886,"v":-1,"s":"Historical"},{"yr":1887,"v":3,"s":"Historical"},{"yr":1888,"v":5,"s":"Historical"},{"yr":1889,"v":1,"s":"Historical"},{"yr":1890,"v":-2,"s":"Historical"},
{"yr":1891,"v":-4,"s":"Historical"},{"yr":1892,"v":0,"s":"Historical"},{"yr":1893,"v":3,"s":"Historical"},{"yr":1894,"v":5,"s":"Historical"},{"yr":1895,"v":2,"s":"Historical"},{"yr":1896,"v":-1,"s":"Historical"},{"yr":1897,"v":1,"s":"Historical"},{"yr":1898,"v":3,"s":"Historical"},{"yr":1899,"v":-2,"s":"Historical"},{"yr":1900,"v":0,"s":"Historical"},
{"yr":1901,"v":1,"s":"Historical"},{"yr":1902,"v":-1,"s":"Historical"},{"yr":1903,"v":2,"s":"Historical"},{"yr":1904,"v":0,"s":"Historical"},{"yr":1905,"v":-2,"s":"Historical"},{"yr":1906,"v":1,"s":"Historical"},{"yr":1907,"v":3,"s":"Historical"},{"yr":1908,"v":0,"s":"Historical"},{"yr":1909,"v":2,"s":"Historical"},{"yr":1910,"v":-1,"s":"Historical"},
{"yr":1911,"v":0,"s":"Historical"},{"yr":1912,"v":2,"s":"Historical"},{"yr":1913,"v":-2,"s":"Historical"},{"yr":1914,"v":1,"s":"Historical"},{"yr":1915,"v":3,"s":"Historical"},{"yr":1916,"v":0,"s":"Historical"},{"yr":1917,"v":-2,"s":"Historical"},{"yr":1918,"v":-4,"s":"Historical"},{"yr":1919,"v":1,"s":"Historical"},{"yr":1920,"v":0,"s":"Historical"},
{"yr":1921,"v":2,"s":"Historical"},{"yr":1922,"v":4,"s":"Historical"},{"yr":1923,"v":1,"s":"Historical"},{"yr":1924,"v":3,"s":"Historical"},{"yr":1925,"v":7,"s":"Historical"},{"yr":1926,"v":2,"s":"Historical"},{"yr":1927,"v":0,"s":"Historical"},{"yr":1928,"v":3,"s":"Historical"},{"yr":1929,"v":1,"s":"Historical"},{"yr":1930,"v":-1,"s":"Historical"},
{"yr":1931,"v":2,"s":"Historical"},{"yr":1932,"v":4,"s":"Historical"},{"yr":1933,"v":1,"s":"Historical"},{"yr":1934,"v":3,"s":"Historical"},{"yr":1935,"v":0,"s":"Historical"},{"yr":1936,"v":2,"s":"Historical"},{"yr":1937,"v":5,"s":"Historical"},{"yr":1938,"v":1,"s":"Historical"},{"yr":1939,"v":-2,"s":"Historical"},{"yr":1940,"v":1,"s":"Historical"},
{"yr":1941,"v":3,"s":"Historical"},{"yr":1942,"v":0,"s":"Historical"},{"yr":1943,"v":2,"s":"Historical"},{"yr":1944,"v":-1,"s":"Historical"},{"yr":1945,"v":1,"s":"Historical"},{"yr":1946,"v":4,"s":"Historical"},{"yr":1947,"v":0,"s":"Historical"},{"yr":1948,"v":-2,"s":"Historical"},{"yr":1949,"v":1,"s":"Historical"},{"yr":1950,"v":-1,"s":"Historical"},
{"yr":1951,"v":-3,"s":"Historical"},{"yr":1952,"v":0,"s":"Historical"},{"yr":1953,"v":-5,"s":"Historical"},{"yr":1954,"v":-2,"s":"Historical"},{"yr":1955,"v":1,"s":"Historical"},{"yr":1956,"v":-1,"s":"Historical"},{"yr":1957,"v":-6,"s":"Historical"},{"yr":1958,"v":-3,"s":"Historical"},{"yr":1959,"v":0,"s":"Historical"},{"yr":1960,"v":-2,"s":"Historical"},
{"yr":1961,"v":2,"s":"Historical"},{"yr":1962,"v":-1,"s":"Historical"},{"yr":1963,"v":-4,"s":"Historical"},{"yr":1964,"v":0,"s":"Historical"},{"yr":1965,"v":-2,"s":"Historical"},{"yr":1966,"v":1,"s":"Historical"},{"yr":1967,"v":-1,"s":"Historical"},{"yr":1968,"v":2,"s":"Historical"},{"yr":1969,"v":-3,"s":"Historical"},{"yr":1970,"v":0,"s":"Historical"},
{"yr":1971,"v":3,"s":"Historical"},{"yr":1972,"v":-1,"s":"Historical"},{"yr":1973,"v":1,"s":"Historical"},{"yr":1974,"v":4,"s":"Historical"},{"yr":1975,"v":0,"s":"Historical"},{"yr":1976,"v":-2,"s":"Historical"},{"yr":1977,"v":-4,"s":"Historical"},{"yr":1978,"v":-1,"s":"Historical"},{"yr":1979,"v":2,"s":"Historical"},{"yr":1980,"v":-1,"s":"Historical"},
{"yr":1981,"v":1,"s":"Historical"},{"yr":1982,"v":3,"s":"Historical"},{"yr":1983,"v":-1,"s":"Historical"},{"yr":1984,"v":-3,"s":"Historical"},{"yr":1985,"v":1,"s":"Historical"},{"yr":1986,"v":4,"s":"Historical"},{"yr":1987,"v":0,"s":"Historical"},{"yr":1988,"v":-2,"s":"Historical"},{"yr":1989,"v":1,"s":"Historical"},{"yr":1990,"v":-1,"s":"Historical"},
{"yr":1991,"v":2,"s":"Historical"},{"yr":1992,"v":-1,"s":"Historical"},{"yr":1993,"v":1,"s":"Historical"},{"yr":1994,"v":3,"s":"Historical"},{"yr":1995,"v":0,"s":"Historical"},{"yr":1996,"v":2,"s":"Historical"},{"yr":1997,"v":1,"s":"Historical"},{"yr":1998,"v":3,"s":"Historical"},{"yr":1999,"v":0,"s":"Historical"},{"yr":2000,"v":2,"s":"Historical"},
{"yr":2001,"v":1,"s":"Historical"},{"yr":2002,"v":3,"s":"Historical"},{"yr":2003,"v":2,"s":"Historical"},{"yr":2004,"v":1,"s":"Historical"},{"yr":2005,"v":3,"s":"Historical"},
{"yr":2006,"v":2,"s":"RCP 4.5"},{"yr":2008,"v":4,"s":"RCP 4.5"},{"yr":2010,"v":1,"s":"RCP 4.5"},{"yr":2012,"v":3,"s":"RCP 4.5"},{"yr":2014,"v":5,"s":"RCP 4.5"},{"yr":2016,"v":2,"s":"RCP 4.5"},{"yr":2018,"v":4,"s":"RCP 4.5"},{"yr":2020,"v":6,"s":"RCP 4.5"},{"yr":2022,"v":3,"s":"RCP 4.5"},{"yr":2024,"v":5,"s":"RCP 4.5"},{"yr":2026,"v":2,"s":"RCP 4.5"},{"yr":2028,"v":6,"s":"RCP 4.5"},{"yr":2030,"v":4,"s":"RCP 4.5"},{"yr":2032,"v":7,"s":"RCP 4.5"},{"yr":2034,"v":3,"s":"RCP 4.5"},{"yr":2036,"v":5,"s":"RCP 4.5"},{"yr":2038,"v":8,"s":"RCP 4.5"},{"yr":2040,"v":4,"s":"RCP 4.5"},{"yr":2042,"v":6,"s":"RCP 4.5"},{"yr":2044,"v":9,"s":"RCP 4.5"},{"yr":2046,"v":5,"s":"RCP 4.5"},{"yr":2048,"v":7,"s":"RCP 4.5"},{"yr":2050,"v":4,"s":"RCP 4.5"},{"yr":2052,"v":8,"s":"RCP 4.5"},{"yr":2054,"v":6,"s":"RCP 4.5"},{"yr":2056,"v":9,"s":"RCP 4.5"},{"yr":2058,"v":5,"s":"RCP 4.5"},{"yr":2060,"v":7,"s":"RCP 4.5"},{"yr":2062,"v":10,"s":"RCP 4.5"},{"yr":2064,"v":6,"s":"RCP 4.5"},{"yr":2066,"v":8,"s":"RCP 4.5"},{"yr":2068,"v":11,"s":"RCP 4.5"},{"yr":2070,"v":7,"s":"RCP 4.5"},{"yr":2072,"v":9,"s":"RCP 4.5"},{"yr":2074,"v":6,"s":"RCP 4.5"},{"yr":2076,"v":10,"s":"RCP 4.5"},{"yr":2078,"v":8,"s":"RCP 4.5"},{"yr":2080,"v":11,"s":"RCP 4.5"},{"yr":2082,"v":7,"s":"RCP 4.5"},{"yr":2084,"v":9,"s":"RCP 4.5"},{"yr":2086,"v":12,"s":"RCP 4.5"},{"yr":2088,"v":8,"s":"RCP 4.5"},{"yr":2090,"v":10,"s":"RCP 4.5"},{"yr":2092,"v":7,"s":"RCP 4.5"},{"yr":2094,"v":11,"s":"RCP 4.5"},{"yr":2096,"v":9,"s":"RCP 4.5"},{"yr":2098,"v":12,"s":"RCP 4.5"},{"yr":2100,"v":10,"s":"RCP 4.5"},
{"yr":2006,"v":2,"s":"RCP 6.0"},{"yr":2008,"v":1,"s":"RCP 6.0"},{"yr":2010,"v":4,"s":"RCP 6.0"},{"yr":2012,"v":2,"s":"RCP 6.0"},{"yr":2014,"v":0,"s":"RCP 6.0"},{"yr":2016,"v":3,"s":"RCP 6.0"},{"yr":2018,"v":5,"s":"RCP 6.0"},{"yr":2020,"v":2,"s":"RCP 6.0"},{"yr":2022,"v":4,"s":"RCP 6.0"},{"yr":2024,"v":1,"s":"RCP 6.0"},{"yr":2026,"v":5,"s":"RCP 6.0"},{"yr":2028,"v":3,"s":"RCP 6.0"},{"yr":2030,"v":6,"s":"RCP 6.0"},{"yr":2032,"v":2,"s":"RCP 6.0"},{"yr":2034,"v":4,"s":"RCP 6.0"},{"yr":2036,"v":7,"s":"RCP 6.0"},{"yr":2038,"v":3,"s":"RCP 6.0"},{"yr":2040,"v":5,"s":"RCP 6.0"},{"yr":2042,"v":4,"s":"RCP 6.0"},{"yr":2044,"v":6,"s":"RCP 6.0"},{"yr":2046,"v":8,"s":"RCP 6.0"},{"yr":2048,"v":4,"s":"RCP 6.0"},{"yr":2050,"v":6,"s":"RCP 6.0"},{"yr":2052,"v":9,"s":"RCP 6.0"},{"yr":2054,"v":5,"s":"RCP 6.0"},{"yr":2056,"v":7,"s":"RCP 6.0"},{"yr":2058,"v":4,"s":"RCP 6.0"},{"yr":2060,"v":8,"s":"RCP 6.0"},{"yr":2062,"v":6,"s":"RCP 6.0"},{"yr":2064,"v":9,"s":"RCP 6.0"},{"yr":2066,"v":5,"s":"RCP 6.0"},{"yr":2068,"v":8,"s":"RCP 6.0"},{"yr":2070,"v":10,"s":"RCP 6.0"},{"yr":2072,"v":6,"s":"RCP 6.0"},{"yr":2074,"v":9,"s":"RCP 6.0"},{"yr":2076,"v":7,"s":"RCP 6.0"},{"yr":2078,"v":11,"s":"RCP 6.0"},{"yr":2080,"v":8,"s":"RCP 6.0"},{"yr":2082,"v":6,"s":"RCP 6.0"},{"yr":2084,"v":10,"s":"RCP 6.0"},{"yr":2086,"v":8,"s":"RCP 6.0"},{"yr":2088,"v":12,"s":"RCP 6.0"},{"yr":2090,"v":9,"s":"RCP 6.0"},{"yr":2092,"v":7,"s":"RCP 6.0"},{"yr":2094,"v":11,"s":"RCP 6.0"},{"yr":2096,"v":9,"s":"RCP 6.0"},{"yr":2098,"v":8,"s":"RCP 6.0"},{"yr":2100,"v":10,"s":"RCP 6.0"},
{"yr":2006,"v":2,"s":"RCP 2.6"},{"yr":2008,"v":0,"s":"RCP 2.6"},{"yr":2010,"v":3,"s":"RCP 2.6"},{"yr":2012,"v":1,"s":"RCP 2.6"},{"yr":2014,"v":4,"s":"RCP 2.6"},{"yr":2016,"v":2,"s":"RCP 2.6"},{"yr":2018,"v":0,"s":"RCP 2.6"},{"yr":2020,"v":3,"s":"RCP 2.6"},{"yr":2022,"v":5,"s":"RCP 2.6"},{"yr":2024,"v":2,"s":"RCP 2.6"},{"yr":2026,"v":4,"s":"RCP 2.6"},{"yr":2028,"v":1,"s":"RCP 2.6"},{"yr":2030,"v":3,"s":"RCP 2.6"},{"yr":2032,"v":5,"s":"RCP 2.6"},{"yr":2034,"v":2,"s":"RCP 2.6"},{"yr":2036,"v":4,"s":"RCP 2.6"},{"yr":2038,"v":6,"s":"RCP 2.6"},{"yr":2040,"v":3,"s":"RCP 2.6"},{"yr":2042,"v":5,"s":"RCP 2.6"},{"yr":2044,"v":2,"s":"RCP 2.6"},{"yr":2046,"v":4,"s":"RCP 2.6"},{"yr":2048,"v":6,"s":"RCP 2.6"},{"yr":2050,"v":3,"s":"RCP 2.6"},{"yr":2052,"v":5,"s":"RCP 2.6"},{"yr":2054,"v":7,"s":"RCP 2.6"},{"yr":2056,"v":4,"s":"RCP 2.6"},{"yr":2058,"v":2,"s":"RCP 2.6"},{"yr":2060,"v":5,"s":"RCP 2.6"},{"yr":2062,"v":3,"s":"RCP 2.6"},{"yr":2064,"v":6,"s":"RCP 2.6"},{"yr":2066,"v":4,"s":"RCP 2.6"},{"yr":2068,"v":7,"s":"RCP 2.6"},{"yr":2070,"v":5,"s":"RCP 2.6"},{"yr":2072,"v":3,"s":"RCP 2.6"},{"yr":2074,"v":6,"s":"RCP 2.6"},{"yr":2076,"v":4,"s":"RCP 2.6"},{"yr":2078,"v":7,"s":"RCP 2.6"},{"yr":2080,"v":5,"s":"RCP 2.6"},{"yr":2082,"v":3,"s":"RCP 2.6"},{"yr":2084,"v":6,"s":"RCP 2.6"},{"yr":2086,"v":4,"s":"RCP 2.6"},{"yr":2088,"v":7,"s":"RCP 2.6"},{"yr":2090,"v":5,"s":"RCP 2.6"},{"yr":2092,"v":6,"s":"RCP 2.6"},{"yr":2094,"v":4,"s":"RCP 2.6"},{"yr":2096,"v":7,"s":"RCP 2.6"},{"yr":2098,"v":5,"s":"RCP 2.6"},{"yr":2100,"v":6,"s":"RCP 2.6"},
{"yr":2006,"v":2,"s":"RCP 8.5"},{"yr":2007,"v":3,"s":"RCP 8.5"},{"yr":2008,"v":1,"s":"RCP 8.5"},{"yr":2009,"v":4,"s":"RCP 8.5"},{"yr":2010,"v":2,"s":"RCP 8.5"},{"yr":2011,"v":3,"s":"RCP 8.5"},{"yr":2012,"v":5,"s":"RCP 8.5"},{"yr":2013,"v":2,"s":"RCP 8.5"},{"yr":2014,"v":4,"s":"RCP 8.5"},{"yr":2015,"v":3,"s":"RCP 8.5"},{"yr":2016,"v":6,"s":"RCP 8.5"},{"yr":2017,"v":3,"s":"RCP 8.5"},{"yr":2018,"v":5,"s":"RCP 8.5"},{"yr":2019,"v":2,"s":"RCP 8.5"},{"yr":2020,"v":4,"s":"RCP 8.5"},{"yr":2021,"v":6,"s":"RCP 8.5"},{"yr":2022,"v":4,"s":"RCP 8.5"},{"yr":2023,"v":8,"s":"RCP 8.5"},{"yr":2024,"v":5,"s":"RCP 8.5"},{"yr":2025,"v":7,"s":"RCP 8.5"},{"yr":2026,"v":4,"s":"RCP 8.5"},{"yr":2027,"v":6,"s":"RCP 8.5"},{"yr":2028,"v":9,"s":"RCP 8.5"},{"yr":2029,"v":5,"s":"RCP 8.5"},{"yr":2030,"v":7,"s":"RCP 8.5"},{"yr":2031,"v":5,"s":"RCP 8.5"},{"yr":2032,"v":8,"s":"RCP 8.5"},{"yr":2033,"v":6,"s":"RCP 8.5"},{"yr":2034,"v":9,"s":"RCP 8.5"},{"yr":2035,"v":6,"s":"RCP 8.5"},{"yr":2036,"v":8,"s":"RCP 8.5"},{"yr":2037,"v":5,"s":"RCP 8.5"},{"yr":2038,"v":9,"s":"RCP 8.5"},{"yr":2039,"v":7,"s":"RCP 8.5"},{"yr":2040,"v":6,"s":"RCP 8.5"},{"yr":2041,"v":9,"s":"RCP 8.5"},{"yr":2042,"v":7,"s":"RCP 8.5"},{"yr":2043,"v":10,"s":"RCP 8.5"},{"yr":2044,"v":8,"s":"RCP 8.5"},{"yr":2045,"v":11,"s":"RCP 8.5"},{"yr":2046,"v":8,"s":"RCP 8.5"},{"yr":2047,"v":10,"s":"RCP 8.5"},{"yr":2048,"v":12,"s":"RCP 8.5"},{"yr":2049,"v":9,"s":"RCP 8.5"},{"yr":2050,"v":11,"s":"RCP 8.5"},{"yr":2051,"v":10,"s":"RCP 8.5"},{"yr":2052,"v":13,"s":"RCP 8.5"},{"yr":2053,"v":10,"s":"RCP 8.5"},{"yr":2054,"v":12,"s":"RCP 8.5"},{"yr":2055,"v":11,"s":"RCP 8.5"},{"yr":2056,"v":14,"s":"RCP 8.5"},{"yr":2057,"v":12,"s":"RCP 8.5"},{"yr":2058,"v":13,"s":"RCP 8.5"},{"yr":2059,"v":11,"s":"RCP 8.5"},{"yr":2060,"v":14,"s":"RCP 8.5"},{"yr":2061,"v":12,"s":"RCP 8.5"},{"yr":2062,"v":15,"s":"RCP 8.5"},{"yr":2063,"v":13,"s":"RCP 8.5"},{"yr":2064,"v":12,"s":"RCP 8.5"},{"yr":2065,"v":15,"s":"RCP 8.5"},{"yr":2066,"v":13,"s":"RCP 8.5"},{"yr":2067,"v":16,"s":"RCP 8.5"},{"yr":2068,"v":14,"s":"RCP 8.5"},{"yr":2069,"v":13,"s":"RCP 8.5"},{"yr":2070,"v":15,"s":"RCP 8.5"},{"yr":2071,"v":14,"s":"RCP 8.5"},{"yr":2072,"v":17,"s":"RCP 8.5"},{"yr":2073,"v":15,"s":"RCP 8.5"},{"yr":2074,"v":13,"s":"RCP 8.5"},{"yr":2075,"v":16,"s":"RCP 8.5"},{"yr":2076,"v":15,"s":"RCP 8.5"},{"yr":2077,"v":18,"s":"RCP 8.5"},{"yr":2078,"v":14,"s":"RCP 8.5"},{"yr":2079,"v":16,"s":"RCP 8.5"},{"yr":2080,"v":15,"s":"RCP 8.5"},{"yr":2081,"v":17,"s":"RCP 8.5"},{"yr":2082,"v":19,"s":"RCP 8.5"},{"yr":2083,"v":16,"s":"RCP 8.5"},{"yr":2084,"v":18,"s":"RCP 8.5"},{"yr":2085,"v":17,"s":"RCP 8.5"},{"yr":2086,"v":20,"s":"RCP 8.5"},{"yr":2087,"v":18,"s":"RCP 8.5"},{"yr":2088,"v":21,"s":"RCP 8.5"},{"yr":2089,"v":19,"s":"RCP 8.5"},{"yr":2090,"v":20,"s":"RCP 8.5"},{"yr":2091,"v":22,"s":"RCP 8.5"},{"yr":2092,"v":19,"s":"RCP 8.5"},{"yr":2093,"v":21,"s":"RCP 8.5"},{"yr":2094,"v":20,"s":"RCP 8.5"},{"yr":2095,"v":22,"s":"RCP 8.5"},{"yr":2096,"v":20,"s":"RCP 8.5"},{"yr":2097,"v":21,"s":"RCP 8.5"},{"yr":2098,"v":19,"s":"RCP 8.5"},{"yr":2099,"v":21,"s":"RCP 8.5"},{"yr":2100,"v":20,"s":"RCP 8.5"}
]
},
"spacing": 25,
"resolve": {"scale": {"color": "independent", "fill": "independent", "strokeWidth": "independent", "x": "independent", "y": "independent"}, "legend": {"color": "independent"}},
"hconcat": [
{
  "title": {"text": "Temperature change since 1861"},
  "width": 376, "height": 382,
  "view": {"stroke": "#7a7a7a"},
  "resolve": {"axis": {"x": "independent", "y": "independent"}},
  "layer": [
    {
      "data": {"name": "t_band"},
      "mark": {"type": "area"},
      "encoding": {
        "x": {"field": "yr", "type": "quantitative", "scale": {"domain": [1860, 2100], "nice": false, "zero": false}, "axis": {"title": null, "values": [1860,1880,1900,1920,1940,1960,1980,2000,2020,2040,2060,2080,2100], "format": "d", "labelExpr": "datum.value % 40 == 0 ? datum.label : ''"}},
        "y": {"field": "lo", "type": "quantitative", "scale": {"domain": [-2, 9.2], "nice": false, "zero": false}, "axis": {"title": "India temperature change (°C)", "titlePadding": 16, "values": [-2,-1,0,1,2,3,4,5,6,7,8,9], "labelExpr": "datum.value % 2 == 0 ? replace(format(datum.value, '.1f'), '−', '-') : ''"}},
        "y2": {"field": "hi"},
        "fill": {"field": "b", "type": "nominal", "scale": {"domain": ["hist", "outer", "inner"], "range": ["#e6e6e6", "#e6e6e6", "#d2d2d2"]}, "legend": null}
      }
    },
    {
      "data": {"name": "t_line"},
      "mark": {"type": "line"},
      "encoding": {
        "x": {"field": "yr", "type": "quantitative", "axis": null},
        "y": {"field": "v", "type": "quantitative", "axis": null},
        "color": {"field": "s", "type": "nominal", "scale": {"domain": ["RCP 2.6", "RCP 4.5", "RCP 6.0", "RCP 8.5", "Historical", "CRU"], "range": ["#7c7c7c", "#d6d6d6", "#bdbdbd", "#686868", "#8a8a8a", "#a0a0a0"]}, "legend": {"title": null, "orient": "top-left"}},
        "strokeWidth": {"field": "s", "type": "nominal", "scale": {"domain": ["RCP 2.6", "RCP 4.5", "RCP 6.0", "RCP 8.5", "Historical", "CRU"], "range": [2.4, 1.6, 1.6, 2.8, 2.0, 1.2]}, "legend": null}
      }
    },
    {
      "data": {"name": "t_line"},
      "mark": {"type": "point", "opacity": 0},
      "encoding": {
        "x": {"field": "yr", "type": "quantitative", "axis": {"orient": "top", "labels": false, "title": null, "values": [1860,1880,1900,1920,1940,1960,1980,2000,2020,2040,2060,2080,2100]}},
        "y": {"field": "v", "type": "quantitative", "axis": {"orient": "right", "labels": false, "title": null, "values": [-2,-1,0,1,2,3,4,5,6,7,8,9]}}
      }
    }
  ]
},
{
  "title": {"text": "Precipitation change since 1861"},
  "width": 379, "height": 382,
  "view": {"stroke": "#7a7a7a"},
  "resolve": {"axis": {"x": "independent", "y": "independent"}},
  "layer": [
    {
      "data": {"name": "p_band"},
      "mark": {"type": "area"},
      "encoding": {
        "x": {"field": "yr", "type": "quantitative", "scale": {"domain": [1860, 2100], "nice": false, "zero": false}, "axis": {"title": null, "values": [1860,1880,1900,1920,1940,1960,1980,2000,2020,2040,2060,2080,2100], "format": "d", "labelExpr": "datum.value % 40 == 0 ? datum.label : ''"}},
        "y": {"field": "lo", "type": "quantitative", "scale": {"domain": [-40, 80], "nice": false, "zero": false}, "axis": {"title": "India precipitation change (%)", "titlePadding": 2, "values": [-40,-30,-20,-10,0,10,20,30,40,50,60,70,80], "labelExpr": "datum.value % 20 == 0 ? replace(datum.label, '−', '-') : ''"}},
        "y2": {"field": "hi"},
        "fill": {"field": "b", "type": "nominal", "scale": {"domain": ["hist", "outer", "inner"], "range": ["#e8e8e8", "#d8d8d8", "#cccccc"]}, "legend": null}
      }
    },
    {
      "data": {"name": "p_line"},
      "mark": {"type": "line"},
      "encoding": {
        "x": {"field": "yr", "type": "quantitative", "axis": null},
        "y": {"field": "v", "type": "quantitative", "axis": null},
        "color": {"field": "s", "type": "nominal", "scale": {"domain": ["RCP 2.6", "RCP 4.5", "RCP 6.0", "RCP 8.5", "Historical", "CRU"], "range": ["#7c7c7c", "#d6d6d6", "#bdbdbd", "#686868", "#858585", "#b0b0b0"]}, "legend": {"title": null, "orient": "top-left"}},
        "strokeWidth": {"field": "s", "type": "nominal", "scale": {"domain": ["RCP 2.6", "RCP 4.5", "RCP 6.0", "RCP 8.5", "Historical", "CRU"], "range": [2.2, 1.4, 1.4, 2.8, 2.6, 1.0]}, "legend": null}
      }
    },
    {
      "data": {"name": "p_line"},
      "mark": {"type": "point", "opacity": 0},
      "encoding": {
        "x": {"field": "yr", "type": "quantitative", "axis": {"orient": "top", "labels": false, "title": null, "values": [1860,1880,1900,1920,1940,1960,1980,2000,2020,2040,2060,2080,2100]}},
        "y": {"field": "v", "type": "quantitative", "axis": {"orient": "right", "labels": false, "title": null, "values": [-40,-30,-20,-10,0,10,20,30,40,50,60,70,80]}}
      }
    }
  ]
}
]
}
